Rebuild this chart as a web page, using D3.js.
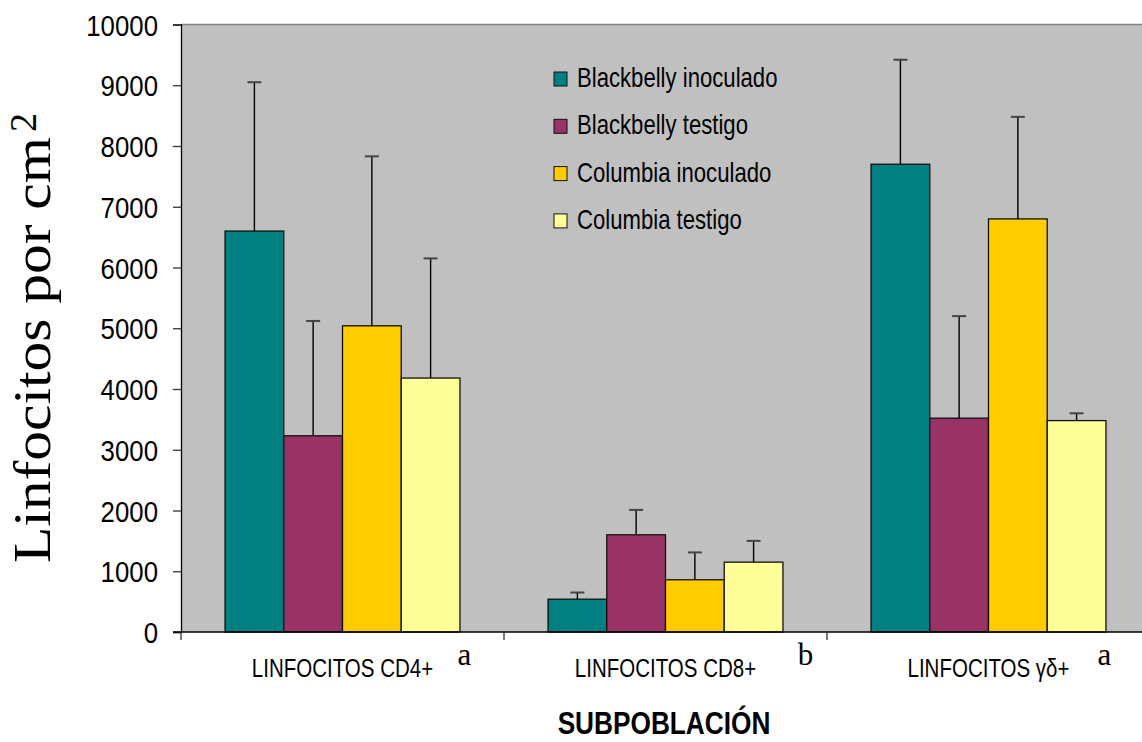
<!DOCTYPE html>
<html>
<head>
<meta charset="utf-8">
<script src="https://cdn.jsdelivr.net/npm/d3@7/dist/d3.min.js"></script>
<style>
  html, body { margin: 0; padding: 0; background: #ffffff; }
  svg { display: block; }
  .sans { font-family: "Liberation Sans", Arial, sans-serif; }
  .serif { font-family: "Liberation Serif", "Times New Roman", serif; }
</style>
</head>
<body>
<svg id="chart" width="1142" height="742"></svg>
<script>
// Lymphocyte subpopulations per cm² — mean (bar) and upper error limit (whisker)
const categories = ["LINFOCITOS CD4+", "LINFOCITOS CD8+", "LINFOCITOS γδ+"];
const significance = ["a", "b", "a"];
const seriesNames = ["Blackbelly inoculado", "Blackbelly testigo", "Columbia inoculado", "Columbia testigo"];
const seriesColors = ["#008080", "#993366", "#FFCC00", "#FFFF99"];

const blackbellyInoculado = [6600, 540, 7700];
const blackbellyTestigo   = [3230, 1600, 3520];
const columbiaInoculado   = [5040, 860, 6800];
const columbiaTestigo     = [4180, 1150, 3480];

// upper end of the error whiskers
const blackbellyInoculadoErr = [9050, 650, 9420];
const blackbellyTestigoErr   = [5120, 2010, 5200];
const columbiaInoculadoErr   = [7830, 1310, 8480];
const columbiaTestigoErr     = [6150, 1500, 3600];

const yTicks = [0, 1000, 2000, 3000, 4000, 5000, 6000, 7000, 8000, 9000, 10000];

const seriesValues = [blackbellyInoculado, blackbellyTestigo, columbiaInoculado, columbiaTestigo];
const seriesErrors = [blackbellyInoculadoErr, blackbellyTestigoErr, columbiaInoculadoErr, columbiaTestigoErr];

// condensed sans text: horizontal squeeze of a regular sans face
function condensed(sel, x, y, k = 0.82) {
  return sel.attr("x", 0).attr("y", 0)
    .attr("transform", `translate(${x},${y}) scale(${k},1)`);
}

const svg = d3.select("#chart");

// plot frame
const plot = { left: 181, right: 1150, top: 24.5, bottom: 632 };

const x0 = d3.scaleBand().domain(categories).range([plot.left, plot.right]).padding(0);
const x1 = d3.scaleBand().domain(seriesNames).range([0, x0.bandwidth()])
  .paddingInner(0).paddingOuter(0.75);
const y = d3.scaleLinear().domain([0, 10000]).range([plot.bottom, plot.top]);
const color = d3.scaleOrdinal().domain(seriesNames).range(seriesColors);

// gray plot background
svg.append("rect")
  .attr("x", plot.left).attr("y", plot.top)
  .attr("width", plot.right - plot.left).attr("height", plot.bottom - plot.top)
  .attr("fill", "#C0C0C0");
svg.append("line")
  .attr("x1", plot.left).attr("x2", plot.right)
  .attr("y1", plot.top).attr("y2", plot.top)
  .attr("stroke", "#808080").attr("stroke-width", 1.5);

// bars
const rows = [];
categories.forEach((c, i) => {
  seriesNames.forEach((s, j) => {
    rows.push({ cat: c, series: s, value: seriesValues[j][i], err: seriesErrors[j][i] });
  });
});
const cx = d => x0(d.cat) + x1(d.series) + x1.bandwidth() / 2;

svg.append("g").selectAll("rect").data(rows).join("rect")
  .attr("x", d => x0(d.cat) + x1(d.series))
  .attr("y", d => y(d.value))
  .attr("width", x1.bandwidth())
  .attr("height", d => y(0) - y(d.value))
  .attr("fill", d => color(d.series))
  .attr("stroke", "#111")
  .attr("stroke-width", 1.3);

// error whiskers (upward only)
const capHalf = 7;
const whisk = svg.append("g");
whisk.selectAll("line.stem").data(rows).join("line")
  .attr("class", "stem")
  .attr("x1", cx).attr("x2", cx)
  .attr("y1", d => y(d.value))
  .attr("y2", d => y(d.err))
  .attr("stroke", "#000").attr("stroke-width", 1.4);
whisk.selectAll("line.cap").data(rows).join("line")
  .attr("class", "cap")
  .attr("x1", d => cx(d) - capHalf)
  .attr("x2", d => cx(d) + capHalf)
  .attr("y1", d => y(d.err))
  .attr("y2", d => y(d.err))
  .attr("stroke", "#444").attr("stroke-width", 2);

// y axis
const yAxis = d3.axisLeft(y).tickValues(yTicks).tickFormat(d3.format("d"))
  .tickSize(8).tickPadding(14);
const yg = svg.append("g").attr("transform", `translate(${plot.left},0)`).call(yAxis);
yg.select(".domain").attr("stroke", "#000").attr("stroke-width", 1.3);
yg.selectAll(".tick line").attr("stroke", "#333").attr("stroke-width", 1.3);
yg.selectAll(".tick text")
  .attr("class", "sans")
  .attr("font-size", 30)
  .attr("fill", "#000")
  .attr("dy", null)
  .attr("text-anchor", "end")
  .each(function () { condensed(d3.select(this), -23, 10.5, 0.86); });

// x axis baseline and category dividers
svg.append("line")
  .attr("x1", plot.left - 8).attr("x2", plot.right)
  .attr("y1", plot.bottom).attr("y2", plot.bottom)
  .attr("stroke", "#000").attr("stroke-width", 1.3);
svg.selectAll("line.div").data(categories).join("line")
  .attr("class", "div")
  .attr("x1", d => x0(d)).attr("x2", d => x0(d))
  .attr("y1", plot.bottom).attr("y2", plot.bottom + 8)
  .attr("stroke", "#333").attr("stroke-width", 1.3);

// category labels
svg.selectAll("text.cat").data(categories).join("text")
  .attr("class", "cat sans")
  .attr("text-anchor", "middle")
  .attr("font-size", 25)
  .attr("fill", "#000")
  .text(d => d)
  .each(function (d) { condensed(d3.select(this), x0(d) + x0.bandwidth() / 2, 677); });

// significance letters beside the category labels
const letterShift = [122, 140, 116];
svg.selectAll("text.sig").data(significance).join("text")
  .attr("class", "sig serif")
  .attr("x", (d, i) => x0(categories[i]) + x0.bandwidth() / 2 + letterShift[i])
  .attr("y", 665)
  .attr("text-anchor", "middle")
  .attr("font-size", 31)
  .attr("fill", "#000")
  .text(d => d);

// x axis title
svg.append("text")
  .attr("class", "sans")
  .attr("text-anchor", "middle")
  .attr("font-size", 32)
  .attr("font-weight", "bold")
  .attr("fill", "#000")
  .text("SUBPOBLACIÓN")
  .call(condensed, 664, 734);

// y axis title
const yt = svg.append("g").attr("transform", "translate(50,563) rotate(-90)");
yt.append("text")
  .attr("class", "serif")
  .attr("x", 0).attr("y", 0)
  .attr("font-size", 52)
  .attr("textLength", 426)
  .attr("lengthAdjust", "spacingAndGlyphs")
  .attr("fill", "#000")
  .text("Linfocitos por cm");
yt.append("text")
  .attr("class", "serif")
  .attr("x", 431).attr("y", -14)
  .attr("font-size", 38)
  .attr("fill", "#000")
  .text("2");

// legend
const legend = svg.append("g").attr("transform", "translate(554,72)");
const item = legend.selectAll("g").data(seriesNames).join("g")
  .attr("transform", (d, i) => `translate(0,${i * 47.3})`);
item.append("rect")
  .attr("width", 13).attr("height", 14)
  .attr("fill", d => color(d))
  .attr("stroke", "#111").attr("stroke-width", 1);
item.append("text")
  .attr("class", "sans")
  .attr("font-size", 27)
  .attr("fill", "#000")
  .text(d => d)
  .each(function () { condensed(d3.select(this), 23, 15); });
</script>
</body>
</html>
